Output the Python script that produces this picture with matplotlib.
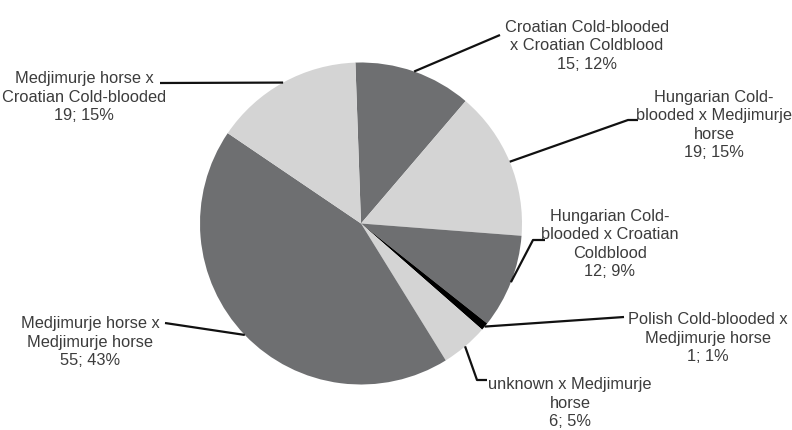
import numpy as np
import matplotlib.pyplot as plt

# crosses, clockwise from the top
labels = ['Croatian Cold-blooded\nx Croatian Coldblood',
          'Hungarian Cold-\nblooded x Medjimurje\nhorse',
          'Hungarian Cold-\nblooded x Croatian\nColdblood',
          'Polish Cold-blooded x\nMedjimurje horse',
          'unknown x Medjimurje\nhorse',
          'Medjimurje horse x\nMedjimurje horse',
          'Medjimurje horse x\nCroatian Cold-blooded']
counts = [15, 19, 12, 1, 6, 55, 19]
percents = [12, 15, 9, 1, 5, 43, 15]

dark, light = '#6e6f71', '#d4d4d4'
colors = [dark, light, dark, '#000000', light, dark, light]

W, H = 792, 430
fig = plt.figure(figsize=(W / 100, H / 100), dpi=100)
ax = fig.add_axes([0, 0, 1, 1])

cx, cy, r = 361, H - 223.5, 161
wedges, _ = ax.pie(counts, colors=colors, startangle=92, counterclock=False,
                   center=(cx, cy), radius=r, frame=True,
                   wedgeprops=dict(linewidth=0))
ax.set_xlim(0, W)
ax.set_ylim(0, H)
ax.set_aspect('equal')
ax.axis('off')

# label placement (pixel coords, y from top): text centre, leader path
text_pos = [(587, 46), (714, 125), (610, 244), (708, 338),
            (570, 403), (90, 342), (84, 97)]
leader = [[(500, 35)],
          [(628, 120), (638, 120)],
          [(533, 240), (545, 240)],
          [(624, 317)],
          [(477, 380), (487, 380)],
          [(165, 323)],
          [(160, 83)]]

for w, lab, n, p, (tx, ty), path in zip(wedges, labels, counts, percents,
                                         text_pos, leader):
    mid = np.deg2rad((w.theta1 + w.theta2) / 2)
    x0, y0 = cx + r * np.cos(mid), cy + r * np.sin(mid)
    xs = [x0] + [q[0] for q in path]
    ys = [y0] + [H - q[1] for q in path]
    ax.plot(xs, ys, color='#111111', lw=1.6, solid_capstyle='butt')
    ax.text(tx, H - ty, f'{lab}\n{n}; {p}%', ha='center', va='center',
            multialignment='center', fontsize=11.8, color='#3c3c3c',
            family=['Liberation Sans', 'DejaVu Sans'], linespacing=1.3)

fig.savefig('out.png', dpi=100, facecolor='white')
